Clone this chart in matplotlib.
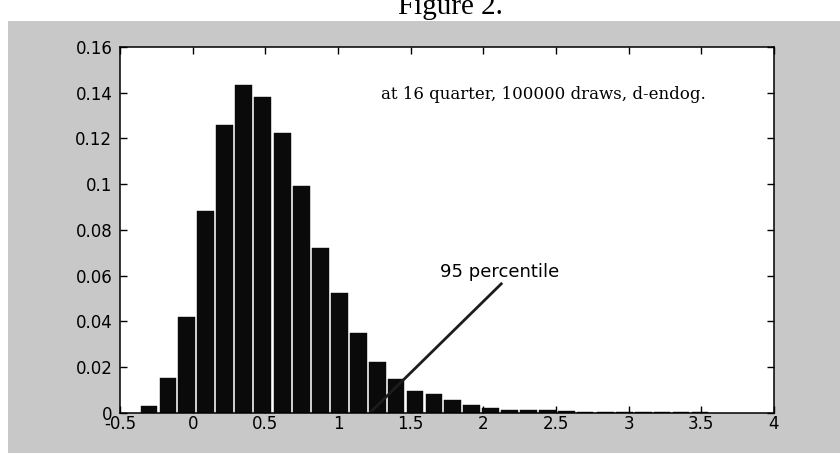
"""
Figure 2 - histogram of simulated draws at 16 quarters (MATLAB-style look)
"""

import matplotlib
matplotlib.use('Agg')
import matplotlib.pyplot as plt
import matplotlib.patches as mpatches

# bin centres and relative frequencies
bin_centers = [-0.30, -0.17, -0.04, 0.09, 0.22, 0.35, 0.48, 0.62, 0.75, 0.88,
               1.01, 1.14, 1.27, 1.40, 1.53, 1.66, 1.79, 1.92, 2.05, 2.18,
               2.31, 2.44, 2.57, 2.70, 2.84, 2.97, 3.10, 3.23, 3.36, 3.49]
frequencies = [0.0029, 0.0151, 0.0417, 0.0884, 0.1259, 0.1433, 0.1380, 0.1223,
               0.0992, 0.0719, 0.0525, 0.0350, 0.0221, 0.0149, 0.0094, 0.0081,
               0.0056, 0.0032, 0.0019, 0.0013, 0.0013, 0.0010, 0.0006, 0.0005,
               0.0005, 0.0001, 0.0001, 0.0001, 0.0004, 0.0004]

x_ticks = [-0.5, 0, 0.5, 1, 1.5, 2, 2.5, 3, 3.5, 4]
x_tick_labels = ['-0.5', '0', '0.5', '1', '1.5', '2', '2.5', '3', '3.5', '4']
y_ticks = [0, 0.02, 0.04, 0.06, 0.08, 0.1, 0.12, 0.14, 0.16]
y_tick_labels = ['0', '0.02', '0.04', '0.06', '0.08', '0.1', '0.12', '0.14', '0.16']

title_text = 'Figure 2.'
info_text = 'at 16 quarter, 100000 draws, d-endog.'
pct_text = '95 percentile'

fig = plt.figure(figsize=(8.4, 4.53), dpi=100)
fig.patch.set_facecolor('white')

# gray MATLAB figure panel (kept behind the axes)
fig.patches.append(mpatches.Rectangle(
    (8 / 840, 0), 1 - 8 / 840, 1 - 20.5 / 453,
    transform=fig.transFigure, facecolor='#c8c8c8', edgecolor='none', zorder=-5
))

# title sitting above the panel, partly cut at the top
fig.text(450 / 840, 1 - 14 / 453, title_text, ha='center', va='baseline',
         fontsize=21, family='Liberation Serif')

ax = fig.add_axes([120 / 840, 1 - 412.7 / 453, 654 / 840, 365.7 / 453])
ax.set_facecolor('white')

ax.bar(bin_centers, frequencies, width=0.115, color='#0a0a0a',
       edgecolor='#0a0a0a', linewidth=0.3, zorder=2)

ax.set_xlim(-0.5, 4)
ax.set_ylim(0, 0.16)
ax.set_xticks(x_ticks)
ax.set_xticklabels(x_tick_labels)
ax.set_yticks(y_ticks)
ax.set_yticklabels(y_tick_labels)
ax.tick_params(direction='in', length=5, width=1, top=True, right=True,
               labelsize=12, colors='black')
ax.tick_params(axis='x', pad=2)
ax.tick_params(axis='y', pad=5.5)
for spine in ax.spines.values():
    spine.set_linewidth(1.1)
    spine.set_zorder(5)

# annotation
ax.plot([1.22, 2.13], [0.0, 0.0568], color='#1c1c1c', linewidth=2,
        solid_capstyle='butt', zorder=3)
ax.text(2.115, 0.0616, pct_text, ha='center', va='center', fontsize=13,
        family='DejaVu Sans', zorder=4)
ax.text(1.296, 0.139, info_text, ha='left', va='center', fontsize=12,
        family='DejaVu Serif', zorder=4)

plt.savefig('out.png', dpi=100, facecolor=fig.get_facecolor())
plt.close()
